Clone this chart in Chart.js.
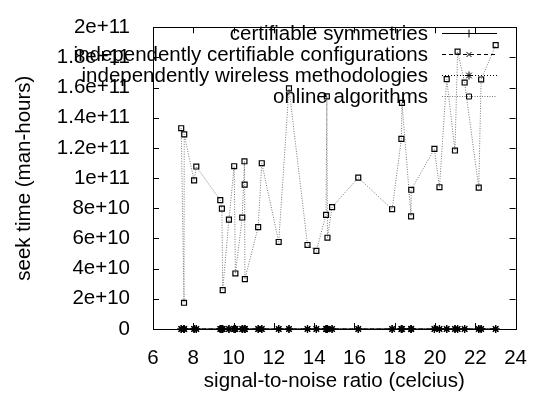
<html>
    <body style="margin:0;background:#fff">
        <div style="width:536px;height:394px">
            <canvas id="myChart" width="536" height="394"></canvas>
        </div>
        <script src="https://cdn.jsdelivr.net/npm/chart.js@4.4.1/dist/chart.umd.min.js"></script>
        <script>
            const snrValues = [
                7.40, 7.54, 7.55, 8.04, 8.15, 9.34, 9.42, 9.46, 9.77, 10.03,
                10.09, 10.43, 10.54, 10.55, 10.56, 11.22, 11.40, 12.24, 12.75, 13.67,
                14.11, 14.59, 14.63, 14.66, 14.89, 16.19, 17.87, 18.33, 18.36, 18.81,
                18.82, 19.97, 20.22, 20.58, 20.99, 21.12, 21.47, 22.17, 22.29, 23.01
            ];
            const onlineAlgorithms = [
                1.331e11, 0.174e11, 1.290e11, 0.985e11, 1.077e11, 0.854e11, 0.798e11, 0.258e11, 0.725e11, 1.079e11,
                0.368e11, 0.739e11, 1.112e11, 0.957e11, 0.331e11, 0.675e11, 1.099e11, 0.577e11, 1.595e11, 0.557e11,
                0.518e11, 0.757e11, 1.542e11, 0.605e11, 0.808e11, 1.003e11, 0.794e11, 1.260e11, 1.499e11, 0.747e11,
                0.923e11, 1.194e11, 0.940e11, 1.656e11, 1.183e11, 1.839e11, 1.634e11, 0.937e11, 1.654e11, 1.882e11
            ];
            const certifiableSymmetries = snrValues.map(() => 0);
            const certifiableConfigurations = snrValues.map(() => 0);
            const wirelessMethodologies = snrValues.map(() => 0);
            const seriesNames = [
                "certifiable symmetries",
                "independently certifiable configurations",
                "independently wireless methodologies",
                "online algorithms"
            ];
            const xTicks = [6, 8, 10, 12, 14, 16, 18, 20, 22, 24];
            const yTicks = [0, 2e10, 4e10, 6e10, 8e10, 1e11, 1.2e11, 1.4e11, 1.6e11, 1.8e11, 2e11];

            const FONT = "Liberation Sans, Arial, Helvetica, sans-serif";
            const FS = 20.5;

            function sciLabel(v) {
                if (v === 0) return "0";
                const e = Math.floor(Math.log10(v) + 1e-9);
                const m = parseFloat((v / Math.pow(10, e)).toFixed(2));
                return m + "e+" + e;
            }

            function pts(ys) {
                return snrValues.map((x, i) => ({ x: x, y: ys[i] }));
            }

            const frame = {
                id: "frame",
                beforeDatasetsDraw(chart) {
                    const { ctx, chartArea: a, scales } = chart;
                    ctx.save();
                    ctx.strokeStyle = "#000";
                    ctx.lineWidth = 1;
                    ctx.beginPath();
                    xTicks.forEach(t => {
                        const x = Math.round(scales.x.getPixelForValue(t)) + 0.5;
                        ctx.moveTo(x, a.bottom); ctx.lineTo(x, a.bottom - 6);
                        ctx.moveTo(x, a.top); ctx.lineTo(x, a.top + 6);
                    });
                    yTicks.forEach(t => {
                        const y = Math.round(scales.y.getPixelForValue(t)) + 0.5;
                        ctx.moveTo(a.left, y); ctx.lineTo(a.left + 6, y);
                        ctx.moveTo(a.right, y); ctx.lineTo(a.right - 6, y);
                    });
                    ctx.stroke();
                    ctx.strokeRect(Math.round(a.left) + 0.5, Math.round(a.top) + 0.5,
                        Math.round(a.right - a.left), Math.round(a.bottom - a.top));
                    ctx.restore();
                },
                afterDraw(chart) {
                    const ctx = chart.ctx;
                    ctx.save();
                    ctx.font = FS + "px " + FONT;
                    ctx.textAlign = "right";
                    ctx.textBaseline = "middle";
                    chart.data.datasets.forEach((ds, i) => {
                        const y = 33 + i * 21;
                        ctx.fillStyle = "#000";
                        ctx.fillText(ds.label, 428, y + 1);
                        ctx.strokeStyle = ds.borderColor;
                        ctx.lineWidth = 1;
                        ctx.setLineDash(ds.borderDash || []);
                        ctx.beginPath();
                        ctx.moveTo(442, y + 0.5); ctx.lineTo(497, y + 0.5);
                        ctx.stroke();
                        ctx.setLineDash([]);
                        ctx.strokeStyle = "#000";
                        ctx.fillStyle = "rgba(0,0,0,0)";
                        Chart.helpers.drawPoint(ctx, {
                            pointStyle: ds.pointStyle, radius: ds.pointRadius, rotation: 0,
                            borderWidth: ds.pointBorderWidth
                        }, 469, y + 0.5);
                    });
                    ctx.restore();
                }
            };

            const common = {
                showLine: true,
                borderWidth: 1,
                pointBorderColor: "#000",
                pointBackgroundColor: "rgba(0,0,0,0)",
                pointBorderWidth: 1.2,
                clip: false
            };

            new Chart("myChart", {
                type: "scatter",
                data: {
                    datasets: [
                        { ...common, label: seriesNames[0], data: pts(certifiableSymmetries),
                          borderColor: "#000", pointStyle: "cross", pointRadius: 4 },
                        { ...common, label: seriesNames[1], data: pts(certifiableConfigurations),
                          borderColor: "#000", borderDash: [4, 3], pointStyle: "crossRot", pointRadius: 3.5 },
                        { ...common, label: seriesNames[2], data: pts(wirelessMethodologies),
                          borderColor: "#000", borderDash: [1, 2], pointStyle: "star", pointRadius: 4 },
                        { ...common, label: seriesNames[3], data: pts(onlineAlgorithms),
                          borderColor: "#777", borderDash: [1, 1.5], pointStyle: "rect", pointRadius: 3.5 }
                    ]
                },
                plugins: [frame],
                options: {
                    responsive: false,
                    animation: false,
                    events: [],
                    layout: { padding: { top: 19, right: 15, left: 0, bottom: 0 } },
                    plugins: { legend: { display: false }, tooltip: { enabled: false } },
                    scales: {
                        x: {
                            type: "linear", min: 6, max: 24,
                            afterBuildTicks: s => { s.ticks = xTicks.map(v => ({ value: v })); },
                            grid: { display: false },
                            border: { display: false },
                            ticks: { color: "#000", font: { family: FONT, size: FS }, padding: 9, maxRotation: 0 },
                            title: { display: true, text: "signal-to-noise ratio (celcius)", color: "#000",
                                     font: { family: FONT, size: FS }, padding: { top: 0, bottom: 0 } },
                            afterFit: s => { s.height = 65; }
                        },
                        y: {
                            type: "linear", min: 0, max: 2e11,
                            afterBuildTicks: s => { s.ticks = yTicks.map(v => ({ value: v })); },
                            grid: { display: false },
                            border: { display: false },
                            ticks: { color: "#000", font: { family: FONT, size: FS }, padding: 15,
                                     callback: v => sciLabel(v) },
                            title: { display: true, text: "seek time (man-hours)", color: "#000",
                                     font: { family: FONT, size: FS }, padding: { top: 12, bottom: 0 } },
                            afterFit: s => { s.width = 153; }
                        }
                    }
                }
            });
        </script>
    </body>
</html>
